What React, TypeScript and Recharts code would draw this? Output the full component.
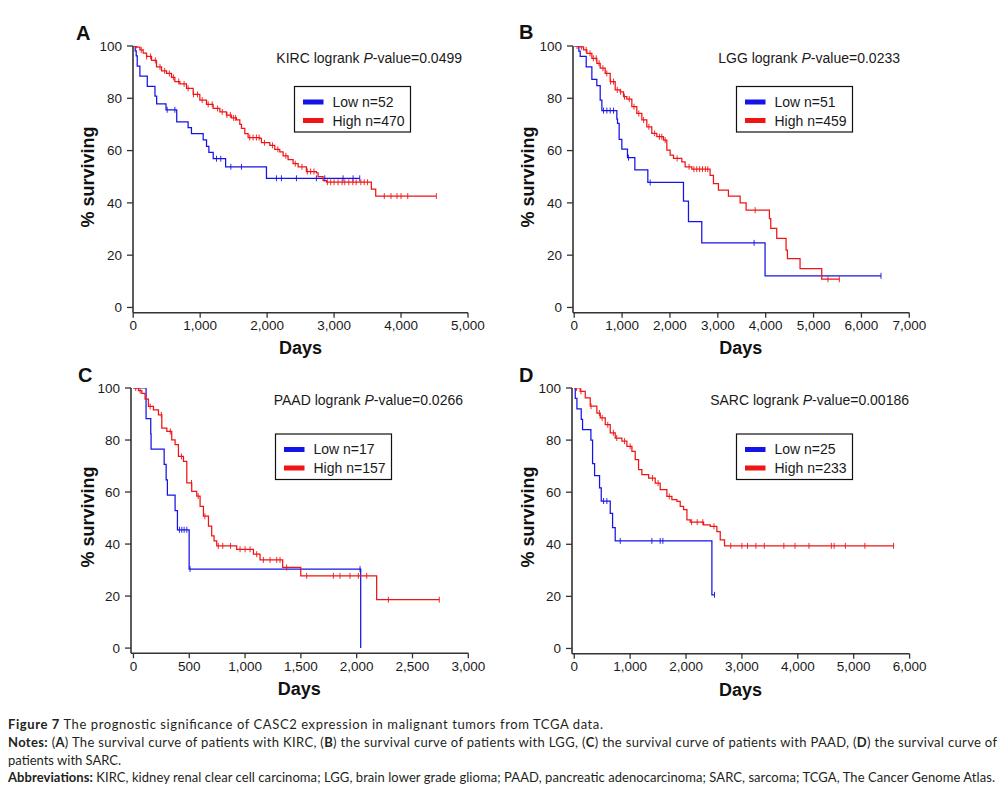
import React from 'react';
import { ComposedChart, Line, Scatter, XAxis, YAxis } from 'recharts';

type Pt = [number, number];

// ---------- DATA (days, % surviving) ----------
const survTicks = [0, 20, 40, 60, 80, 100];
const kircTicks = [0, 1000, 2000, 3000, 4000, 5000];
const lggTicks = [0, 1000, 2000, 3000, 4000, 5000, 6000, 7000];
const paadTicks = [0, 500, 1000, 1500, 2000, 2500, 3000];
const sarcTicks = [0, 1000, 2000, 3000, 4000, 5000, 6000];

const kircLow: Pt[] = [
  [0, 100], [30, 98.1], [45, 96.2], [60, 92.3], [100, 88.5], [210, 84.6], [325, 80.8], [350, 77.9],
  [490, 75.6], [650, 71], [820, 68.8], [870, 66.5], [1045, 64.1], [1095, 61.6], [1130, 59.3],
  [1195, 56.9], [1380, 53.8], [1990, 49.4], [3383, 49.4],
];
const kircLowCensor = [507, 622, 1244, 1308, 1458, 1617, 2139, 2214, 2438, 2736, 2861, 3134, 3284, 3383];

const kircHigh: Pt[] = [
  [0, 100], [50, 99.6], [100, 98.5], [149, 97.3], [199, 96], [274, 94.5], [348, 92], [423, 90.5],
  [498, 89.5], [572, 88], [622, 86.4], [697, 85.5], [796, 83.8], [896, 81.5], [995, 79.3],
  [1095, 77.7], [1194, 76.1], [1294, 74.8], [1393, 73.6], [1468, 72.5], [1542, 71.7], [1592, 70],
  [1617, 68.5], [1667, 66.5], [1716, 65], [1891, 64.7], [1915, 63], [2040, 62], [2114, 60.5],
  [2189, 59.5], [2239, 58], [2313, 56.5], [2388, 55], [2463, 53.8], [2587, 52], [2736, 51.5],
  [2761, 50], [2836, 48.5], [2886, 47.9], [3557, 45.3], [3622, 42.6], [4527, 42.6],
];
const kircHighCensor = [
  40, 120, 200, 260, 330, 400, 470, 540, 600, 680, 760, 820, 900, 960, 1030, 1120, 1180, 1260, 1330,
  1400, 1450, 1500, 1530, 1740, 1790, 1840, 1880, 1960, 2080, 2160, 2280, 2420, 2520, 2600, 2650,
  2700, 2900, 2950, 3000, 3060, 3120, 3160, 3220, 3280, 3330, 3400, 3450, 3500, 3750, 3850, 3940,
  4000, 4100, 4527,
];

const lggLow: Pt[] = [
  [0, 100], [97, 98], [125, 96], [251, 92], [369, 87.2], [473, 84.8], [543, 79.3], [578, 75.3],
  [891, 72], [905, 70.4], [939, 64.3], [995, 60.6], [1113, 57.3], [1267, 52.6], [1538, 47.8],
  [2283, 40.7], [2387, 32.8], [2665, 24.7], [3987, 12.1], [6409, 12.1],
];
const lggLowCensor = [612, 682, 752, 821, 1134, 1587, 3758, 6409];

const lggHigh: Pt[] = [
  [0, 100], [125, 99.7], [195, 98.5], [264, 97.2], [369, 95.3], [473, 93.4], [543, 91.5],
  [647, 89.5], [752, 86.4], [856, 83.2], [960, 82.5], [1030, 80.6], [1100, 79.7], [1204, 76.8],
  [1308, 74.2], [1413, 71.7], [1517, 69.1], [1621, 66.6], [1726, 65.3], [1865, 64], [1935, 60.2],
  [2004, 58.3], [2074, 57], [2248, 55.7], [2317, 53.8], [2457, 52.9], [2839, 50.5], [2909, 47.4],
  [3013, 44.9], [3222, 42.6], [3466, 40], [3591, 37.2], [4078, 34], [4106, 30.2], [4231, 26.4],
  [4426, 21.9], [4454, 18.7], [4718, 14.9], [5171, 10.8], [5539, 10.8],
];
const lggHighCensor = [
  60, 150, 250, 330, 400, 460, 520, 600, 680, 760, 820, 900, 970, 1050, 1150, 1250, 1350, 1450,
  1560, 1680, 1780, 1830, 1900, 2150, 2400, 2500, 2560, 2620, 2680, 2740, 2790, 3780, 5300, 5539,
];

const paadLow: Pt[] = [
  [0, 100], [113, 88.2], [155, 82.4], [158, 76.5], [275, 70.6], [293, 64.7], [304, 58.8],
  [373, 52.9], [394, 45.5], [499, 30.4], [2036, 0],
];
const paadLowCensor = [412, 433, 454, 478, 507, 2030];

const paadHigh: Pt[] = [
  [0, 100], [45, 99], [75, 97.9], [104, 95.7], [134, 92.9], [179, 91.6], [224, 89.7], [254, 84.6],
  [299, 83.3], [343, 80.1], [373, 78.2], [403, 73.7], [448, 71.8], [478, 63.5], [522, 60.3],
  [567, 58.4], [597, 54.5], [627, 50.7], [672, 46.9], [701, 43.1], [722, 41.2], [746, 39.3],
  [925, 38], [1075, 36.1], [1134, 33.9], [1337, 31], [1499, 27.8], [2179, 18.6], [2740, 18.6],
];
const paadHighCensor = [
  20, 60, 150, 250, 330, 430, 520, 580, 640, 760, 800, 870, 955, 1000, 1045, 1104, 1164, 1224,
  1284, 1313, 1373, 1552, 1791, 1851, 1940, 2015, 2090, 2284, 2740,
];

const sarcLow: Pt[] = [
  [0, 100], [18, 96], [48, 92], [125, 88], [149, 84], [298, 80], [328, 71], [364, 66.4],
  [453, 61.7], [483, 56.6], [644, 51.9], [686, 46.4], [733, 41.3], [2463, 20.6], [2510, 20.6],
];
const sarcLowCensor = [525, 584, 823, 1389, 1538, 1586, 2510];

const sarcHigh: Pt[] = [
  [0, 100], [107, 98.7], [197, 96.2], [286, 93], [405, 90.4], [465, 88.5], [555, 85.9],
  [644, 82.8], [733, 80.8], [853, 79.6], [942, 77.6], [1032, 75.7], [1091, 72.5], [1151, 68.7],
  [1210, 66.7], [1330, 65.4], [1449, 63.5], [1538, 61], [1658, 58.4], [1747, 57.1], [1837, 56.5],
  [1896, 54.6], [1956, 53.3], [2016, 49.4], [2075, 48.5], [2314, 47.5], [2433, 46.9],
  [2552, 44.9], [2612, 41.7], [2689, 39.4], [5713, 39.4],
];
const sarcHighCensor = [
  40, 120, 300, 450, 500, 600, 700, 760, 900, 1000, 1400, 1500, 1700, 2100, 2200, 2300, 2500,
  2800, 3000, 3100, 3250, 3400, 3750, 3950, 4200, 4600, 4650, 4850, 5200, 5713,
];

// ---------- STYLE ----------
const AR = "'Liberation Sans', Arial, Helvetica, sans-serif";
const CAP = "Lato, 'Gill Sans', 'Open Sans', sans-serif";
const BLUE = '#1414e6';
const RED = '#f01414';
const AXIS = '#333333';

const survAt = (c: Pt[], t: number) => {
  let s = c[0][1];
  for (const [ti, si] of c) {
    if (ti <= t) s = si;
    else break;
  }
  return s;
};
const rows = (c: Pt[]) => c.map(([t, s]) => ({ t, s }));
const censorRows = (c: Pt[], times: number[]) => times.map((t) => ({ t, s: survAt(c, t) }));
const fmt = (v: number) => v.toLocaleString('en-US');

const mark = (color: string) => (props: any) => {
  const { cx, cy } = props;
  if (cx == null || cy == null) return <g />;
  return <line x1={cx} x2={cx} y1={cy - 3} y2={cy + 3} stroke={color} strokeWidth={0.9} />;
};

type Cfg = {
  left: number; top: number; right: number; bottom: number;
  xDomain: [number, number]; xTicks: number[];
  low: Pt[]; lowC: number[]; high: Pt[]; highC: number[];
};

function KMPanel({ cfg }: { cfg: Cfg }) {
  const W = cfg.right - cfg.left + 80;
  const H = cfg.bottom - cfg.top + 60;
  return (
    <div style={{ position: 'absolute', left: cfg.left - 60, top: cfg.top - 20, width: W, height: H }}>
      <ComposedChart width={W} height={H} margin={{ top: 20, right: 20, bottom: 0, left: 0 }}>
        <XAxis
          type="number" dataKey="t" domain={cfg.xDomain} ticks={cfg.xTicks} allowDataOverflow interval={0}
          height={40} tickSize={5} tickMargin={3} tickFormatter={fmt}
          tick={{ fontSize: 13.5, fill: '#1a1a1a', fontFamily: AR }}
          tickLine={{ stroke: AXIS, strokeWidth: 1.3 }} axisLine={{ stroke: AXIS, strokeWidth: 1.6 }}
        />
        <YAxis
          type="number" dataKey="s" domain={[-2, 100]} ticks={survTicks} allowDataOverflow interval={0}
          width={60} tickSize={6} tickMargin={5}
          tick={{ fontSize: 13.5, fill: '#1a1a1a', fontFamily: AR }}
          tickLine={{ stroke: AXIS, strokeWidth: 1.3 }} axisLine={{ stroke: AXIS, strokeWidth: 1.6 }}
        />
        <Line data={rows(cfg.low)} dataKey="s" type="stepAfter" stroke={BLUE} strokeWidth={1.25} dot={false} activeDot={false} isAnimationActive={false} />
        <Line data={rows(cfg.high)} dataKey="s" type="stepAfter" stroke={RED} strokeWidth={1.25} dot={false} activeDot={false} isAnimationActive={false} />
        <Scatter data={censorRows(cfg.low, cfg.lowC)} dataKey="s" shape={mark(BLUE)} isAnimationActive={false} />
        <Scatter data={censorRows(cfg.high, cfg.highC)} dataKey="s" shape={mark(RED)} isAnimationActive={false} />
      </ComposedChart>
    </div>
  );
}

const panels: Cfg[] = [
  { left: 133, top: 46, right: 468, bottom: 312.7, xDomain: [-3, 5000], xTicks: kircTicks, low: kircLow, lowC: kircLowCensor, high: kircHigh, highC: kircHighCensor },
  { left: 572.7, top: 46, right: 909, bottom: 312.7, xDomain: [-25, 7000], xTicks: lggTicks, low: lggLow, lowC: lggLowCensor, high: lggHigh, highC: lggHighCensor },
  { left: 130.7, top: 388, right: 468, bottom: 653.3, xDomain: [-22, 3000], xTicks: paadTicks, low: paadLow, lowC: paadLowCensor, high: paadHigh, highC: paadHighCensor },
  { left: 571.7, top: 388.3, right: 909.3, bottom: 654, xDomain: [-40, 6000], xTicks: sarcTicks, low: sarcLow, lowC: sarcLowCensor, high: sarcHigh, highC: sarcHighCensor },
];

const letters = ['A', 'B', 'C', 'D'];
const tumors = ['KIRC', 'LGG', 'PAAD', 'SARC'];
const pValues = ['0.0499', '0.0233', '0.0266', '0.00186'];
const lowN = [52, 51, 17, 25];
const highN = [470, 459, 157, 233];

// overlay positions (layout only)
const letterPos = [[76, 40], [519, 39], [78, 382], [519, 382]];
const pPos = [[462, 63], [900, 63], [463, 405], [909, 405]];
const legendPos = [[294.5, 86.5], [736.5, 86.5], [275.5, 434], [736.5, 434]];
const yLabelPos = [[88, 177], [528, 177], [88, 517], [528, 517]];

function Overlay() {
  return (
    <svg width={1005} height={791} style={{ position: 'absolute', left: 0, top: 0, pointerEvents: 'none' }}>
      {panels.map((p, i) => {
        const [lx, ly] = letterPos[i];
        const [px, py] = pPos[i];
        const [bx, by] = legendPos[i];
        const [yx, yy] = yLabelPos[i];
        const cx = (p.left + p.right) / 2;
        return (
          <g key={i}>
            <text x={lx} y={ly} fontFamily={AR} fontWeight="bold" fontSize={20} fill="#111">{letters[i]}</text>
            <text x={px} y={py} textAnchor="end" fontFamily={AR} fontSize={14} fill="#1a1a1a">
              {tumors[i]} logrank <tspan fontStyle="italic">P</tspan>-value={pValues[i]}
            </text>
            <rect x={bx} y={by} width={116} height={45.5} fill="#fff" stroke="#111" strokeWidth={1.2} />
            <rect x={bx + 8.5} y={by + 13} width={20.5} height={5} fill={BLUE} />
            <rect x={bx + 8.5} y={by + 31.5} width={20.5} height={5} fill={RED} />
            <text x={bx + 38} y={by + 20} fontFamily={AR} fontSize={14} fill="#1a1a1a">Low n={lowN[i]}</text>
            <text x={bx + 38} y={by + 39} fontFamily={AR} fontSize={14} fill="#1a1a1a">High n={highN[i]}</text>
            <text x={cx} y={p.bottom + 41.5} textAnchor="middle" fontFamily={AR} fontWeight="bold" fontSize={18} fill="#111">Days</text>
            <text x={yx} y={yy} textAnchor="middle" dominantBaseline="central" transform={`rotate(-90 ${yx} ${yy})`} fontFamily={AR} fontWeight="bold" fontSize={18} fill="#111">% surviving</text>
          </g>
        );
      })}
      <g fontFamily={CAP} fontSize={13} fill="#231f20">
        <text x={8} y={729} textLength={595} lengthAdjust="spacing">
          <tspan fontWeight="bold">Figure 7</tspan> The prognostic significance of CASC2 expression in malignant tumors from TCGA data.
        </text>
        <text x={8} y={747} textLength={989} lengthAdjust="spacing">
          <tspan fontWeight="bold">Notes:</tspan> (<tspan fontWeight="bold">A</tspan>) The survival curve of patients with KIRC, (<tspan fontWeight="bold">B</tspan>) the survival curve of patients with LGG, (<tspan fontWeight="bold">C</tspan>) the survival curve of patients with PAAD, (<tspan fontWeight="bold">D</tspan>) the survival curve of
        </text>
        <text x={8} y={764.5}>patients with SARC.</text>
        <text x={8} y={782} textLength={987} lengthAdjust="spacing">
          <tspan fontWeight="bold">Abbreviations:</tspan> KIRC, kidney renal clear cell carcinoma; LGG, brain lower grade glioma; PAAD, pancreatic adenocarcinoma; SARC, sarcoma; TCGA, The Cancer Genome Atlas.
        </text>
      </g>
    </svg>
  );
}

export default function App() {
  return (
    <div style={{ position: 'absolute', left: 0, top: 0, width: 1005, height: 791, background: '#fff' }}>
      {panels.map((p, i) => (
        <KMPanel key={i} cfg={p} />
      ))}
      <Overlay />
    </div>
  );
}
